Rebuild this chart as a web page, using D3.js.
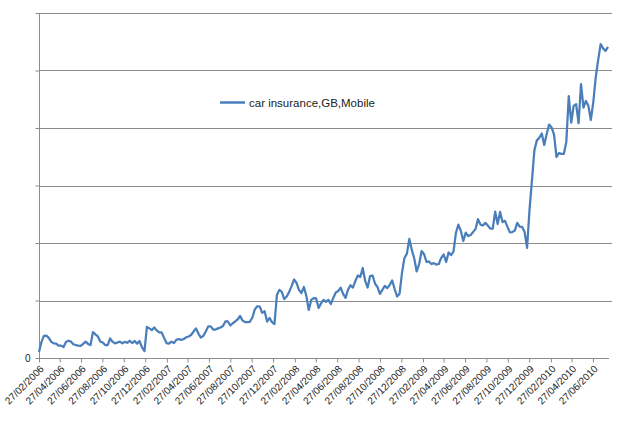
<!DOCTYPE html>
<html>
<head>
<meta charset="utf-8">
<script src="https://cdn.jsdelivr.net/npm/d3@7"></script>
<style>
  html, body { margin: 0; padding: 0; background: #ffffff; }
  svg { display: block; }
  text { font-family: "Liberation Sans", Arial, sans-serif; fill: #222; }
</style>
</head>
<body>
<svg id="chart" width="640" height="434"></svg>
<script>
// ---- data ----
const seriesName = "car insurance,GB,Mobile";
const startDate = "27/02/2006";   // first weekly observation
const weeklyValues = [
  2.1, 5.6, 7.7, 7.8, 7.0, 5.6, 5.1, 5.0, 4.3, 4.3,
  3.8, 5.6, 6.0, 5.7, 4.8, 4.5, 4.3, 4.2, 4.9, 5.7,
  4.9, 4.5, 9.0, 8.2, 7.5, 5.7, 5.4, 4.5, 4.5, 6.8,
  5.6, 5.1, 5.4, 5.7, 5.1, 5.6, 5.3, 6.0, 5.2, 5.9,
  5.0, 5.9, 3.7, 2.4, 10.8, 10.3, 9.7, 10.6, 9.6, 8.9,
  8.9, 7.0, 5.2, 5.0, 5.7, 5.2, 6.3, 6.6, 6.3, 6.6,
  7.2, 7.5, 8.0, 9.2, 10.3, 8.5, 7.1, 7.7, 9.2, 11.0,
  11.0, 9.9, 9.9, 10.3, 10.6, 11.1, 12.7, 12.7, 11.3, 12.1,
  12.7, 13.4, 14.6, 13.0, 12.5, 12.5, 12.6, 14.1, 16.9, 18.0,
  17.9, 15.7, 16.3, 12.7, 13.9, 12.5, 11.8, 21.9, 23.7, 23.0,
  20.5, 21.4, 23.0, 25.0, 27.3, 26.1, 23.7, 22.6, 24.7, 21.6,
  16.7, 20.2, 20.8, 20.7, 17.4, 19.0, 20.2, 19.5, 20.2, 18.8,
  20.9, 22.8, 23.3, 24.5, 22.3, 20.9, 23.8, 25.3, 24.5, 26.8,
  28.7, 28.2, 31.3, 26.8, 24.5, 28.5, 28.7, 25.9, 24.7, 22.3,
  23.7, 25.1, 24.3, 25.4, 27.0, 24.0, 21.4, 22.3, 29.6, 34.8,
  36.3, 41.4, 37.6, 34.6, 30.1, 32.7, 37.2, 36.1, 33.4, 33.6,
  32.7, 33.0, 32.5, 32.7, 34.8, 36.0, 33.4, 36.7, 35.8, 37.0,
  43.5, 46.4, 44.2, 40.7, 43.6, 42.4, 42.8, 43.8, 44.9, 48.3,
  46.4, 46.1, 47.0, 46.1, 45.0, 45.0, 50.9, 46.6, 50.8, 47.3,
  47.7, 45.6, 43.7, 43.8, 44.3, 47.0, 45.7, 45.6, 43.8, 38.3,
  51.5, 61.9, 72.3, 75.7, 76.6, 78.1, 74.1, 77.9, 81.2, 80.2,
  77.7, 69.9, 71.3, 71.0, 71.0, 75.1, 91.1, 81.9, 87.7, 88.3,
  81.7, 95.3, 87.1, 89.4, 87.7, 82.8, 89.0, 97.7, 103.7, 109.2,
  107.7, 106.8, 108.2
];
const xTickLabels = [
  "27/02/2006","27/04/2006","27/06/2006","27/08/2006","27/10/2006","27/12/2006",
  "27/02/2007","27/04/2007","27/06/2007","27/08/2007","27/10/2007","27/12/2007",
  "27/02/2008","27/04/2008","27/06/2008","27/08/2008","27/10/2008","27/12/2008",
  "27/02/2009","27/04/2009","27/06/2009","27/08/2009","27/10/2009","27/12/2009",
  "27/02/2010","27/04/2010","27/06/2010"
];
const yTicks = [0, 20, 40, 60, 80, 100, 120];
const yTickLabels = ["0", "", "", "", "", "", ""];

(function () {
  const parse = d3.timeParse("%d/%m/%Y");
  const t0 = parse(startDate);
  const data = weeklyValues.map((v, i) => ({ date: d3.timeDay.offset(t0, 7 * i), value: v }));
  const tickDates = xTickLabels.map(parse);
  const lastDate = data[data.length - 1].date;

  const svg = d3.select("#chart");
  const mLeft = 39, mRight = 608, mTop = 13, mBottom = 358;

  const x = d3.scaleTime().domain([t0, lastDate]).range([mLeft, mRight]);
  const y = d3.scaleLinear().domain([0, 120]).range([mBottom, mTop]);

  // gridlines
  svg.append("g")
    .selectAll("line")
    .data(yTicks.filter(d => d > 0))
    .join("line")
    .attr("x1", mLeft).attr("x2", 612)
    .attr("y1", d => Math.round(y(d)) + 0.5).attr("y2", d => Math.round(y(d)) + 0.5)
    .attr("stroke", "#8c8c8c").attr("stroke-width", 1);

  // y axis
  const yAxis = d3.axisLeft(y).tickValues(yTicks).tickSize(4).tickPadding(5)
    .tickFormat((d, i) => yTickLabels[i]);
  const gy = svg.append("g").attr("transform", `translate(${mLeft + 0.5},0)`).call(yAxis);
  gy.select(".domain").attr("stroke", "#8c8c8c").attr("d", `M0,${mTop}V${mBottom}`);
  gy.selectAll(".tick line").attr("stroke", "#8c8c8c");
  gy.selectAll(".tick text").attr("font-size", 10).attr("fill", "#222")
    .attr("font-family", "Liberation Sans, Arial, sans-serif");

  // x axis
  const fmt = d3.timeFormat("%d/%m/%Y");
  const xAxis = d3.axisBottom(x).tickValues(tickDates).tickSize(4).tickFormat(fmt);
  const gx = svg.append("g").attr("transform", `translate(0,${mBottom + 0.5})`).call(xAxis);
  gx.select(".domain").attr("stroke", "#8c8c8c").attr("d", `M${mLeft},0H609`);
  gx.selectAll(".tick line").attr("stroke", "#8c8c8c");
  gx.selectAll(".tick text")
    .attr("font-size", 10)
    .attr("font-family", "Liberation Sans, Arial, sans-serif")
    .attr("fill", "#222")
    .attr("text-anchor", "end")
    .attr("dy", null)
    .attr("y", 0)
    .attr("transform", "translate(5,11) rotate(-45)");

  // line
  const line = d3.line().x(d => x(d.date)).y(d => y(d.value));
  svg.append("path")
    .datum(data)
    .attr("fill", "none")
    .attr("stroke", "#4a7ebb")
    .attr("stroke-width", 2.25)
    .attr("stroke-linejoin", "round")
    .attr("d", line);

  // legend
  const lg = svg.append("g").attr("transform", "translate(220,102.5)");
  lg.append("line").attr("x1", 0).attr("x2", 25).attr("y1", 0).attr("y2", 0)
    .attr("stroke", "#4a7ebb").attr("stroke-width", 2.5);
  lg.append("text").attr("x", 29).attr("y", 0).attr("dy", "0.35em")
    .attr("font-size", 11.5).attr("fill", "#222").text(seriesName);
})();
</script>
</body>
</html>
